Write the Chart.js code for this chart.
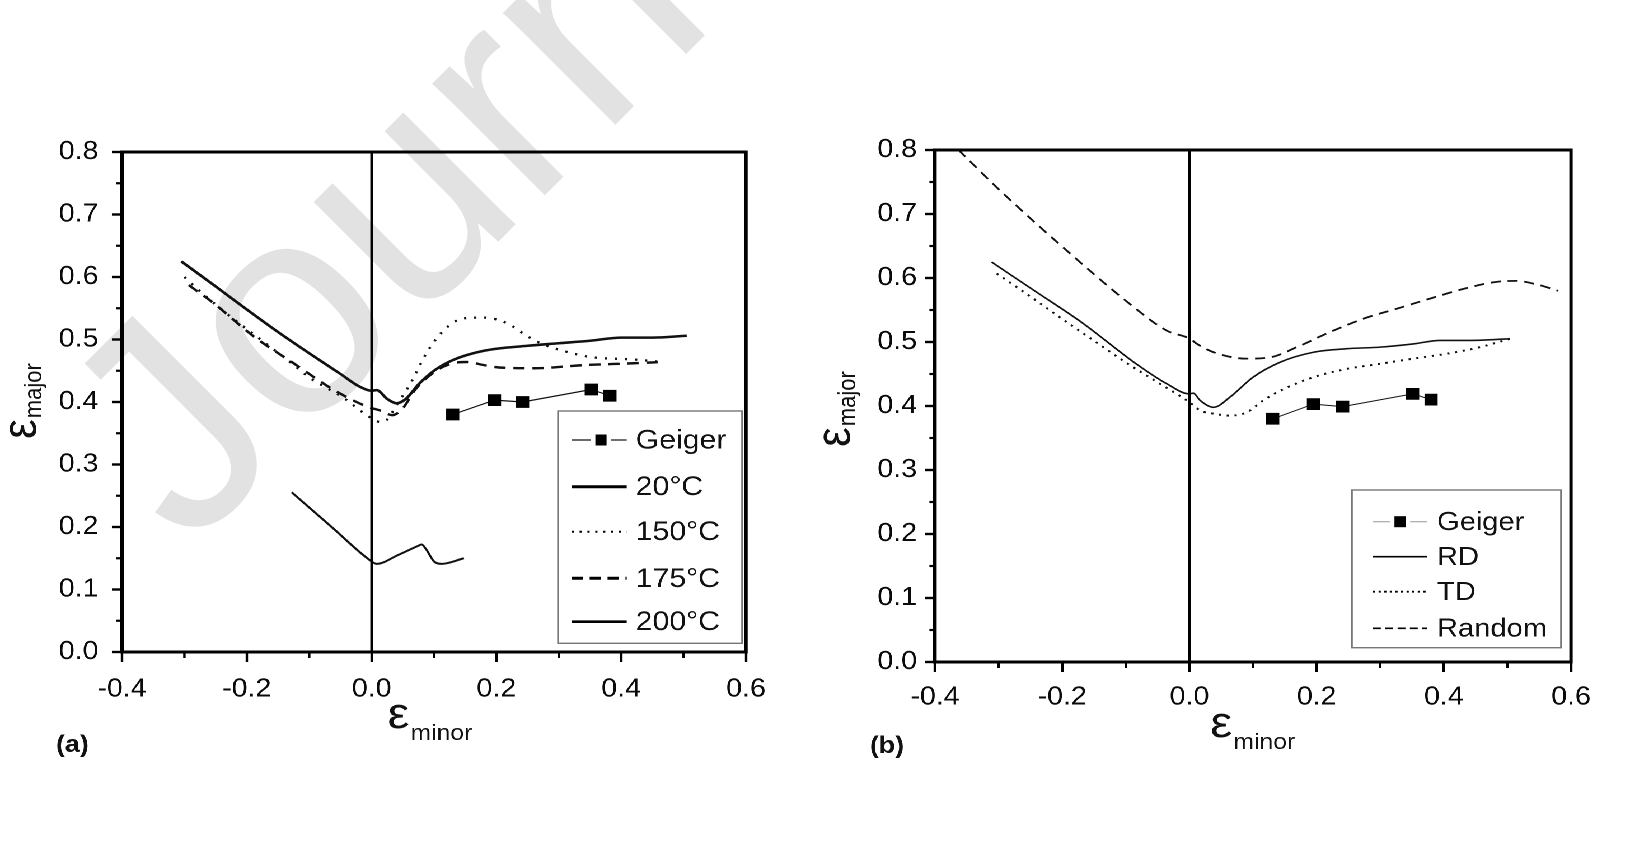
<!DOCTYPE html>
<html><head><meta charset="utf-8">
<script src="https://cdn.jsdelivr.net/npm/chart.js@4.4.1/dist/chart.umd.min.js"></script>
<style>
html,body{margin:0;padding:0;background:#fff;width:1630px;height:856px;overflow:hidden;}
#wm{position:absolute;left:0;top:0;}
#wrap{position:absolute;left:0;top:0;width:1456px;height:856px;transform:scaleX(1.119505);transform-origin:0 0;}
.box{position:absolute;top:0;width:728px;height:856px;}
</style></head><body>
<canvas id="wm" width="1630" height="856"></canvas>
<div id="wrap">
  <div class="box" style="left:0"><canvas id="ca"></canvas></div>
  <div class="box" style="left:728px"><canvas id="cb"></canvas></div>
</div>
<script>
// ---------- tick labels ----------
const xTickValues = [-0.4, -0.2, 0.0, 0.2, 0.4, 0.6];
const xTickLabels = ['-0.4', '-0.2', '0.0', '0.2', '0.4', '0.6'];
const xMinorValues = [-0.3, -0.1, 0.1, 0.3, 0.5];
const yTickValues = [0.0, 0.1, 0.2, 0.3, 0.4, 0.5, 0.6, 0.7, 0.8];
const yTickLabels = ['0.0', '0.1', '0.2', '0.3', '0.4', '0.5', '0.6', '0.7', '0.8'];
const yMinorValues = [0.05, 0.15, 0.25, 0.35, 0.45, 0.55, 0.65, 0.75];

// ---------- panel (a) ----------
const aGeigerX = [0.13, 0.197, 0.242, 0.352, 0.382];
const aGeigerY = [0.38, 0.403, 0.40, 0.42, 0.41];
const a20X = [-0.305, -0.25, -0.2, -0.15, -0.1, -0.05, -0.02, 0, 0.008, 0.025, 0.04, 0.055, 0.075, 0.1, 0.13, 0.18, 0.25, 0.3, 0.35, 0.4, 0.45, 0.505];
const a20Y = [0.625, 0.585, 0.548, 0.512, 0.478, 0.445, 0.425, 0.418, 0.419, 0.405, 0.398, 0.405, 0.428, 0.450, 0.467, 0.482, 0.490, 0.494, 0.498, 0.503, 0.503, 0.506];
const a150X = [-0.30, -0.285, -0.234, -0.178, -0.13, -0.098, -0.044, -0.012, 0.014, 0.025, 0.04, 0.0625, 0.089, 0.116, 0.148, 0.18, 0.217, 0.25, 0.271, 0.303, 0.351, 0.42, 0.468];
const a150Y = [0.600, 0.586, 0.543, 0.500, 0.4635, 0.438, 0.406, 0.382, 0.368, 0.372, 0.395, 0.43, 0.48, 0.515, 0.534, 0.535, 0.526, 0.505, 0.494, 0.483, 0.472, 0.468, 0.464];
const a175X = [-0.293, -0.253, -0.189, -0.125, -0.06, -0.007, 0.015, 0.033, 0.05, 0.07, 0.105, 0.13, 0.153, 0.18, 0.207, 0.26, 0.34, 0.42, 0.466];
const a175Y = [0.587, 0.558, 0.505, 0.462, 0.419, 0.3925, 0.386, 0.379, 0.39, 0.42, 0.451, 0.462, 0.464, 0.459, 0.455, 0.454, 0.459, 0.462, 0.464];
const a200X = [-0.128, -0.064, 0, 0.008, 0.042, 0.075, 0.08, 0.087, 0.1, 0.112, 0.148];
const a200Y = [0.2555, 0.2, 0.145, 0.141, 0.155, 0.170, 0.172, 0.165, 0.145, 0.141, 0.150];

// ---------- panel (b) ----------
const bGeigerX = [0.131, 0.195, 0.241, 0.351, 0.380];
const bGeigerY = [0.380, 0.403, 0.399, 0.419, 0.410];
const bRDX = [-0.311, -0.245, -0.167, -0.088, -0.036, 0, 0.006, 0.017, 0.038, 0.064, 0.10, 0.143, 0.195, 0.2475, 0.30, 0.352, 0.394, 0.4415, 0.504];
const bRDY = [0.625, 0.581, 0.529, 0.469, 0.435, 0.419, 0.42, 0.4086, 0.398, 0.414, 0.445, 0.4686, 0.484, 0.4895, 0.492, 0.497, 0.5025, 0.5025, 0.505];
const bTDX = [-0.303, -0.25, -0.2, -0.15, -0.1, -0.05, 0, 0.017, 0.038, 0.064, 0.09, 0.116, 0.143, 0.195, 0.2475, 0.30, 0.352, 0.405, 0.457, 0.504];
const bTDY = [0.607, 0.571, 0.536, 0.502, 0.468, 0.437, 0.406, 0.393, 0.388, 0.385, 0.39, 0.4086, 0.424, 0.445, 0.458, 0.466, 0.474, 0.4817, 0.492, 0.505];
const bRandX = [-0.363, -0.298, -0.193, -0.088, -0.036, 0.001, 0.012, 0.038, 0.09, 0.127, 0.169, 0.221, 0.274, 0.326, 0.379, 0.431, 0.483, 0.515, 0.546, 0.58];
const bRandY = [0.8, 0.737, 0.643, 0.555, 0.518, 0.505, 0.497, 0.484, 0.474, 0.476, 0.492, 0.5155, 0.5365, 0.552, 0.568, 0.583, 0.594, 0.5955, 0.590, 0.580];

const S = 1630 / 1456;
const FONT = '"Liberation Sans", Arial, Helvetica, sans-serif';
const pts = (xs, ys) => xs.map((x, i) => ({ x: x, y: ys[i] }));

// ---------- watermark ----------
(function () {
  const c = document.getElementById('wm').getContext('2d');
  c.save();
  c.translate(188, 552);
  c.rotate(-45 * Math.PI / 180);
  c.font = '300px ' + FONT;
  c.fillStyle = '#e2e2e2';
  c.fillText('Journal Pre-proof', 0, 0);
  c.restore();
})();

function line(ctx, x1, y1, x2, y2, w, dash, color) {
  ctx.save();
  ctx.strokeStyle = color || '#000';
  ctx.lineWidth = w;
  ctx.setLineDash(dash || []);
  ctx.beginPath(); ctx.moveTo(x1, y1); ctx.lineTo(x2, y2); ctx.stroke();
  ctx.restore();
}

function decor(p) {
  return {
    id: 'decor',
    afterDraw(chart) {
      const ctx = chart.ctx, ca = chart.chartArea, xs = chart.scales.x, ys = chart.scales.y;
      ctx.save();
      // frame
      ctx.strokeStyle = '#000'; ctx.lineWidth = 3;
      ctx.strokeRect(ca.left, ca.top, ca.right - ca.left, ca.bottom - ca.top);
      // zero line
      const x0 = xs.getPixelForValue(0);
      line(ctx, x0, ca.top, x0, ca.bottom, 2.3);
      // minor ticks
      yMinorValues.forEach(v => { const py = ys.getPixelForValue(v); line(ctx, ca.left, py, ca.left - 5, py, 2.2); });
      xMinorValues.forEach(v => { const px = xs.getPixelForValue(v); line(ctx, px, ca.bottom, px, ca.bottom + 6, 2.2); });
      // axis titles
      ctx.fillStyle = '#111';
      ctx.textBaseline = 'alphabetic';
      const fMain = '44px ' + FONT, fSub = '22px ' + FONT;
      ctx.font = fMain; const we = ctx.measureText('ε').width;
      ctx.font = fSub; const wm = ctx.measureText('minor').width, wj = ctx.measureText('major').width;
      // x title
      let sx = p.xTitle.cx - (we + wm + 1) / 2;
      ctx.font = fMain; ctx.textAlign = 'left';
      ctx.fillText('ε', sx, p.xTitle.base);
      ctx.font = fSub;
      ctx.fillText('minor', sx + we + 1, p.xTitle.base + 12);
      // y title (rotated)
      ctx.save();
      ctx.translate(p.yTitle.base, p.yTitle.cy);
      ctx.rotate(-Math.PI / 2);
      let sy = -(we + wj + 1) / 2;
      ctx.font = fMain; ctx.fillText('ε', sy, 0);
      ctx.font = fSub; ctx.fillText('major', sy + we + 1, 5);
      ctx.restore();
      // panel label
      ctx.font = 'bold 24px ' + FONT;
      ctx.fillText(p.panel, p.panelPos[0], p.panelPos[1]);
      // legend
      const L = p.legend;
      ctx.fillStyle = '#fff';
      ctx.fillRect(L.box[0], L.box[1], L.box[2] - L.box[0], L.box[3] - L.box[1]);
      ctx.strokeStyle = '#777'; ctx.lineWidth = 1.4;
      ctx.strokeRect(L.box[0], L.box[1], L.box[2] - L.box[0], L.box[3] - L.box[1]);
      ctx.font = L.font + 'px ' + FONT;
      ctx.textBaseline = 'middle';
      L.rows.forEach((r, i) => {
        const ds = chart.data.datasets[i];
        if (r.marker) {
          line(ctx, L.sx[0], r.y, r.marker - 9, r.y, 1.2, [], L.geigerLine);
          line(ctx, r.marker + 9, r.y, L.sx[1], r.y, 1.2, [], L.geigerLine);
          ctx.fillStyle = '#000';
          ctx.fillRect(r.marker - 5, r.y - 5.5, 10, 11);
        } else {
          line(ctx, L.sx[0], r.y, L.sx[1], r.y, r.w || ds.borderWidth, r.dash || ds.borderDash || [], '#000');
        }
        ctx.fillStyle = '#111';
        ctx.fillText(ds.label, L.tx, r.y + 1);
      });
      ctx.restore();
    }
  };
}

function makeChart(id, p) {
  return new Chart(document.getElementById(id), {
    type: 'line',
    data: { datasets: p.datasets },
    options: {
      responsive: true, maintainAspectRatio: false, animation: false, devicePixelRatio: 2,
      events: [],
      layout: { padding: { left: 0, top: p.area.top, right: 728 - p.area.right, bottom: 0 } },
      plugins: { legend: { display: false }, tooltip: { enabled: false }, title: { display: false } },
      elements: { point: { radius: 0, hoverRadius: 0 }, line: { borderCapStyle: 'butt', fill: false } },
      scales: {
        x: {
          type: 'linear', min: -0.4, max: 0.6,
          afterFit: a => { a.height = 856 - p.area.bottom; },
          afterBuildTicks: a => { a.ticks = xTickValues.map(v => ({ value: v })); },
          ticks: { callback: (v, i) => xTickLabels[i], font: { family: FONT, size: 25.5 }, color: '#0a0a0a', padding: p.xPad, autoSkip: false, maxRotation: 0 },
          grid: { drawOnChartArea: false, drawTicks: true, tickLength: 10, tickWidth: 2.2, tickColor: '#000', color: '#000' },
          border: { display: true, width: 3, color: '#000' }
        },
        y: {
          type: 'linear', min: 0, max: 0.8,
          afterFit: a => { a.width = p.area.left; },
          afterBuildTicks: a => { a.ticks = yTickValues.map(v => ({ value: v })); },
          ticks: { callback: (v, i) => yTickLabels[i], font: { family: FONT, size: 25.5 }, color: '#0a0a0a', padding: p.yPad, autoSkip: false },
          grid: { drawOnChartArea: false, drawTicks: true, tickLength: 9, tickWidth: 2.4, tickColor: '#000', color: '#000' },
          border: { display: true, width: 3, color: '#000' }
        }
      }
    },
    plugins: [decor(p)]
  });
}

const geigerStyle = { borderColor: '#111', borderWidth: 1.2, pointStyle: 'rect', pointRadius: 8.3, pointBackgroundColor: '#000', pointBorderColor: '#000', pointBorderWidth: 0, tension: 0 };
const curve = { borderColor: '#111', pointRadius: 0, cubicInterpolationMode: 'monotone' };

makeChart('ca', {
  area: { left: 122 / S, right: 746 / S, top: 152, bottom: 652 },
  xPad: 12, yPad: 12,
  xTitle: { cx: 384, base: 728 },
  yTitle: { cy: 401, base: 32 },
  panel: '(a)', panelPos: [50, 752],
  datasets: [
    Object.assign({ label: 'Geiger', data: pts(aGeigerX, aGeigerY) }, geigerStyle),
    Object.assign({ label: '20°C', data: pts(a20X, a20Y), borderWidth: 2.6 }, curve),
    Object.assign({ label: '150°C', data: pts(a150X, a150Y), borderWidth: 2.3, borderDash: [2, 7] }, curve),
    Object.assign({ label: '175°C', data: pts(a175X, a175Y), borderWidth: 2.4, borderDash: [10, 7] }, curve),
    Object.assign({ label: '200°C', data: pts(a200X, a200Y), borderWidth: 2 }, curve)
  ],
  legend: {
    box: [498.4, 411, 662.8, 643.3], sx: [510.7, 559.8], tx: 567.8, font: 27, geigerLine: '#111',
    rows: [{ y: 440, marker: 536.8 }, { y: 486.7, w: 3 }, { y: 531.7, dash: [2, 5], w: 2 }, { y: 578.3, dash: [10, 6], w: 3 }, { y: 621.7, w: 2.6 }]
  }
});

makeChart('cb', {
  area: { left: 935 / S - 728, right: 1571 / S - 728, top: 150, bottom: 662 },
  xPad: 10, yPad: 7,
  xTitle: { cx: 391, base: 737 },
  yTitle: { cy: 409, base: 31 },
  panel: '(b)', panelPos: [49, 753],
  datasets: [
    Object.assign({ label: 'Geiger', data: pts(bGeigerX, bGeigerY) }, geigerStyle, { borderWidth: 1 }),
    Object.assign({ label: 'RD', data: pts(bRDX, bRDY), borderWidth: 1.6 }, curve),
    Object.assign({ label: 'TD', data: pts(bTDX, bTDY), borderWidth: 2, borderDash: [2, 5] }, curve),
    Object.assign({ label: 'Random', data: pts(bRandX, bRandY), borderWidth: 1.8, borderDash: [9, 6] }, curve)
  ],
  legend: {
    box: [479.7, 490, 666.3, 647.7], sx: [498.4, 546.6], tx: 555.6, font: 26, geigerLine: '#aaa',
    rows: [{ y: 521.7, marker: 522.6 }, { y: 556.7, w: 1.6 }, { y: 591.7, dash: [2, 3], w: 1.8 }, { y: 628.3, dash: [7, 4], w: 1.6 }]
  }
});
</script>
</body></html>
